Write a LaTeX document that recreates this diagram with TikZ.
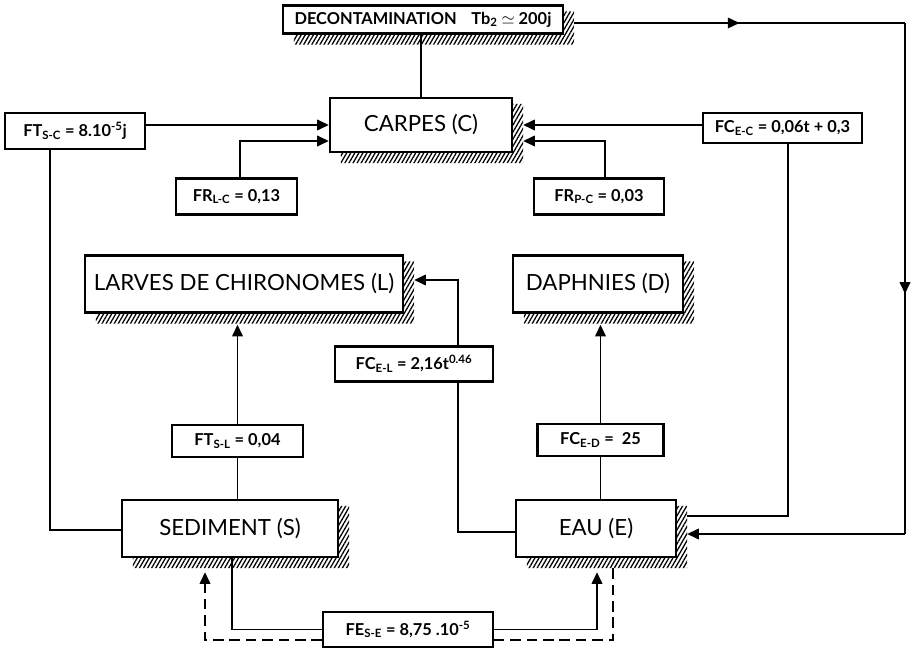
\documentclass[tikz,border=0pt]{standalone}
\usepackage{fontspec}
\setmainfont{Lato}
\usetikzlibrary{calc,arrows.meta,patterns.meta,decorations.markings}
\newdimen\px \px=0.03cm
\tikzset{
 big/.style={draw, line width=2pt, fill=white, inner sep=0pt, font=\fontsize{19}{21}\selectfont},
 small/.style={draw, line width=1.8pt, fill=white, inner sep=0pt, font=\bfseries\fontsize{14}{16}\selectfont},
 conn/.style={line width=1.6pt},
 tip/.tip={Triangle[length=10pt,width=9pt]},
 arr/.style={conn, -tip},
 midarr/.style={conn, decoration={markings, mark=at position #1 with {\arrow{tip}}}, postaction={decorate}},
 dashl/.style={conn, dash pattern=on 9pt off 5pt},
 hatch/.style={pattern={Lines[angle=60,distance=3pt,line width=1.1pt]}},
}
\newcommand{\hatchof}[1]{\fill[hatch] ($(#1.north east)+(0,7)$) -- ($(#1.north east)+(10,7)$) -- ($(#1.south east)+(10,10)$) -- ($(#1.south west)+(12,10)$) -- ($(#1.south west)+(12,0)$) -- (#1.south east) -- cycle;}
\begin{document}
\begin{tikzpicture}[x=0.03cm,y=-0.03cm]
\fill[white] (0,0) rectangle (914,655);
\useasboundingbox (0,0) rectangle (914,655);
% boxes
\node[small, font=\bfseries\fontsize{14}{16}\selectfont, minimum width=280\px, minimum height=28\px] (decon) at (423,19.5) {DECONTAMINATION\hspace{0.9em}Tb\textsubscript{2} $\simeq$ 200j};
\node[big, minimum width=182\px, minimum height=54\px] (carpes) at (421,125) {CARPES (C)};
\node[small, minimum width=140\px, minimum height=36\px] (ftsc) at (75,131) {FT\textsubscript{S-C} = 8.10\textsuperscript{-5}j};
\node[small, minimum width=159\px, minimum height=30\px] (fcec) at (782.5,128) {FC\textsubscript{E-C} = 0,06t + 0,3};
\node[small, minimum width=121\px, minimum height=36\px] (frlc) at (236.5,196.5) {FR\textsubscript{L-C} = 0,13};
\node[small, minimum width=130\px, minimum height=36\px] (frpc) at (599,196.5) {FR\textsubscript{P-C} = 0,03};
\node[big, minimum width=318\px, minimum height=57\px] (larves) at (244,284) {LARVES DE CHIRONOMES (L)};
\node[big, minimum width=170\px, minimum height=57\px] (daph) at (598,284) {DAPHNIES (D)};
\node[small, minimum width=158\px, minimum height=35\px] (fcel) at (414,364) {FC\textsubscript{E-L} = 2,16t\textsuperscript{0.46}};
\node[small, minimum width=131\px, minimum height=32\px] (ftsl) at (237.5,441) {FT\textsubscript{S-L} = 0,04};
\node[small, minimum width=126\px, minimum height=32\px] (fced) at (600.5,440) {FC\textsubscript{E-D} = \ 25};
\node[big, minimum width=216\px, minimum height=57\px] (sed) at (230,528.5) {SEDIMENT (S)};
\node[big, minimum width=160\px, minimum height=57\px] (eau) at (596,528.5) {EAU (E)};
\node[small, minimum width=170\px, minimum height=35\px] (fese) at (408,629.5) {FE\textsubscript{S-E} = 8,75 .10\textsuperscript{-5}};
% helper coordinates
\coordinate (deconR) at ($(decon.east)+(10,3.5)$);
\coordinate (tr) at (905,23);
\coordinate (br) at (905,534);
\coordinate (eauR) at ($(eau.east)+(10,0)$);
\coordinate (carpesR) at ($(carpes.east)+(10,0)$);
\coordinate (elx) at ($(fcel.east)+(-36,0)$);
% connectors
\draw[conn] (carpes.north) -- (carpes.north |- decon.south);
\draw[midarr=0.5] (deconR) -- (tr);
\draw[midarr=0.53] (tr) -- (br);
\draw[arr] (br) -- (br -| eauR);
\draw[arr] (ftsc.east |- carpes.west) -- (carpes.west);
\draw[conn] ($(ftsc.south)+(-25,0)$) |- ($(sed.west)+(0,1.5)$);
\draw[arr] ($(frlc.north)+(3.5,0)$) |- ($(carpes.west)+(0,16)$);
\draw[conn] ($(frlc.south)+(3.5,0)$) -- ($(frlc.south)+(3.5,0)$ |- larves.north);
\draw[arr] (fcec.west |- carpesR) -- (carpesR);
\draw[conn] ($(fcec.south)+(5.5,0)$) |- ($(eauR)+(0,-12.5)$);
\draw[arr] ($(frpc.north)+(6,0)$) |- ($(carpesR)+(0,16)$);
\draw[conn] ($(frpc.south)+(6,0)$) -- ($(frpc.south)+(6,0)$ |- daph.north);
\draw[conn] (ftsl.south) -- (ftsl.south |- sed.north);
\draw[arr] (ftsl.north) -- ($(ftsl.north |- larves.south)+(0,11)$);
\draw[conn] (fced.south) -- (fced.south |- eau.north);
\draw[arr] (fced.north) -- ($(fced.north |- daph.south)+(0,11)$);
\draw[conn] ($(eau.west)+(0,3.5)$) -| (elx |- fcel.south);
\draw[arr] (elx |- fcel.north) |- ($(larves.east)+(10,-4)$);
\draw[conn] ($(sed.south)+(2,0)$) |- (fese.west);
\draw[dashl, arr] ($(fese.west)+(0,10.5)$) -| ($(sed.south)+(-25,14)$);
\draw[arr] (fese.east) -| ($(eau.south)+(1,14)$);
\draw[dashl] ($(eau.south)+(17,10)$) |- ($(fese.east)+(0,10.5)$);
% hatched shadows
\hatchof{decon}
\hatchof{carpes}
\hatchof{larves}
\hatchof{daph}
\hatchof{sed}
\hatchof{eau}
\end{tikzpicture}
\end{document}
